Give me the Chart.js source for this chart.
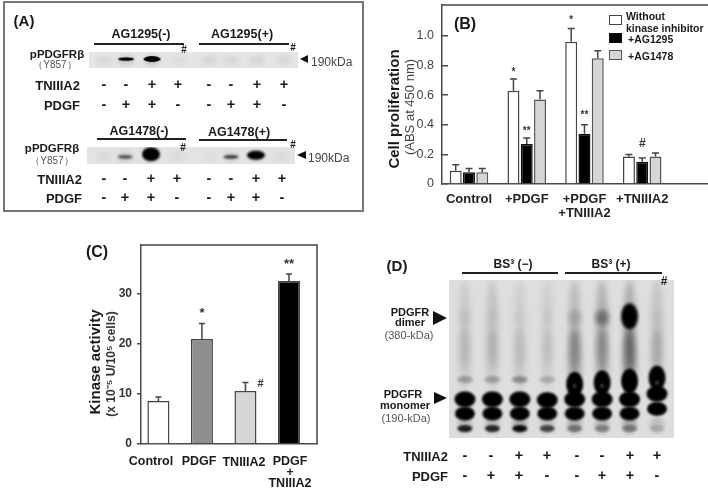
<!DOCTYPE html>
<html>
<head>
<meta charset="utf-8">
<title>PDGFR panels</title>
<script src="https://cdn.jsdelivr.net/npm/chart.js@4/dist/chart.umd.min.js"></script>
<style>
  html, body { margin: 0; background: #fff; }
  #page { position: relative; width: 708px; height: 488px; overflow: hidden; filter: blur(0.5px);
          font-family: "Liberation Sans", Arial, sans-serif; color: #1a1a1a; }
  #page canvas { position: absolute; }
  .t { position: absolute; white-space: nowrap; line-height: 1; }
  .rule { position: absolute; background: #222; }
  .tri { position: absolute; width: 0; height: 0; border-style: solid; border-color: transparent; }
  #frameA { position: absolute; left: 3px; top: 1px; width: 357px; height: 207px; border: 2px solid #777; }
</style>
</head>
<body>
<div id="page">
  <div id="frameA"></div>
  <canvas id="gelA1" width="209" height="16" style="left:89px;top:52px;background:#e5e5e5"></canvas>
  <canvas id="gelA2" width="208" height="17" style="left:87px;top:147px;background:#e3e3e3"></canvas>
  <canvas id="gelD" width="225" height="158" style="left:449px;top:280px;background:#dedede"></canvas>
  <canvas id="chartB" width="333" height="230" style="left:375px;top:0"></canvas>
  <canvas id="chartC" width="225" height="225" style="left:100px;top:235px"></canvas>
</div>
<script>
/* ─── Panel B : cell proliferation ─────────────────────────── */
const B_GROUPS   = ['Control', '+PDGF', ['+PDGF', '+TNIIIA2'], '+TNIIIA2'];
const B_SERIES   = ['Without kinase inhibitor', '+AG1295', '+AG1478'];
const B_NONE     = [0.09, 0.63, 0.96, 0.185];
const B_AG1295   = [0.08, 0.27, 0.34, 0.15];
const B_AG1478   = [0.08, 0.57, 0.85, 0.185];
const B_NONE_ERR = [0.13, 0.71, 1.05, 0.20];
const B_1295_ERR = [0.105, 0.31, 0.40, 0.175];
const B_1478_ERR = [0.105, 0.63, 0.90, 0.21];
const B_TICKS    = [0, 0.2, 0.4, 0.6, 0.8, 1.0];

/* ─── Panel C : kinase activity ────────────────────────────── */
const C_GROUPS = ['Control', 'PDGF', 'TNIIIA2', 'PDGF + TNIIIA2'];
const C_VALUES = [8.6, 21, 10.6, 32.6];
const C_ERR    = [9.4, 24.1, 12.3, 34];
const C_TICKS  = [0, 10, 20, 30];

/* ─── Treatment rows under the blots ───────────────────────── */
const ROW_TNIIIA2 = ['-', '-', '+', '+', '-', '-', '+', '+'];
const ROW_PDGF    = ['-', '+', '+', '-', '-', '+', '+', '-'];

/* ─── Blot A : lanes (fractional, as read) + band densities ── */
const A1_LANES = [0, 0.86, 1.87, 2.88, 4.09, 4.94, 5.95, 7];
const A1_FAINT = [0.05, 0.1, 0.12, 0.04, 0.06, 0.05, 0.06, 0.05];
const A1_MAIN  = [0, 1, 0, 0, 0, 0, 0, 0];
const A1_HEAVY = [0, 0, 1, 0, 0, 0, 0, 0];

const A2_LANES = [0, 0.83, 1.85, 2.87, 4.13, 5, 5.98, 7];
const A2_FAINT = [0.04, 0.1, 0.1, 0.04, 0.02, 0.08, 0.08, 0.04];
const A2_MAIN  = [0, 0.65, 0, 0, 0, 0.78, 0, 0];
const A2_HEAVY = [0, 0, 1, 0, 0, 0, 0, 0];
const A2_DARK  = [0, 0, 0, 0, 0, 0, 1, 0];

/* ─── Blot D : migration (% of gel) and density per lane ───── */
const D_LANES     = [0, 1, 2, 3, 4, 5, 6, 7];
const D_SMEAR     = [0.10, 0.13, 0.08, 0.08, 0.17, 0.22, 0.24, 0.13];
const D_LOWSMEAR  = [0.10, 0.10, 0.10, 0.08, 0.30, 0.24, 0.42, 0.14];
const D_DIMER     = [0.05, 0.03, 0.03, 0.03, 0.14, 0.38, 0, 0.03];
const D_DIMER_HI  = [0, 0, 0, 0, 0, 0, 1, 0];
const D_UPPER     = [0.26, 0.26, 0.34, 0.2, 0, 0, 0, 0];
const D_STACK     = [0, 0, 0, 0, 1, 1, 1, 1];
const D_STACK_POS = [65, 65, 65, 65, 66, 65, 64, 62];
const D_HOLE      = [0, 0, 0, 0, 0.35, 0.35, 0, 0.35];
const D_HOLE_POS  = [67, 67, 67, 67, 67, 67, 67, 65];
const D_MONO_A     = [1, 1, 1, 1, 1, 1, 1, 1];
const D_MONO_A_POS = [75.5, 75.5, 75.5, 76, 75.5, 75.5, 75.5, 72];
const D_MONO_B     = [1, 1, 1, 1, 1, 1, 1, 1];
const D_MONO_B_POS = [84.5, 84.5, 84.5, 84.5, 84.5, 84.5, 84.5, 81.5];
const D_LOW       = [0.85, 0.8, 0.95, 0.65, 0.36, 0.3, 0.32, 0.12];
const D_LOWHAZE   = [0.18, 0.18, 0.24, 0.14, 0.22, 0.2, 0.24, 0.15];

/* ─── Helpers ──────────────────────────────────────────────── */
const page = document.getElementById('page');

function put(text, x, y, o = {}) {
  const el = document.createElement('div');
  el.className = 't';
  el.textContent = text;
  const ax = o.align === 'r' ? '-100%' : o.align === 'l' ? '0' : '-50%';
  el.style.left = x + 'px';
  el.style.top = y + 'px';
  el.style.transform = `translate(${ax},-50%)` + (o.rot ? ` rotate(${o.rot}deg)` : '');
  el.style.fontSize = (o.size || 12) + 'px';
  el.style.fontWeight = o.weight || 'bold';
  el.style.color = o.color || '#1a1a1a';
  page.appendChild(el);
}

function rule(x1, x2, y, h = 1.5) {
  const el = document.createElement('div');
  el.className = 'rule';
  el.style.cssText = `left:${x1}px;width:${x2 - x1}px;top:${y - h / 2}px;height:${h}px`;
  page.appendChild(el);
}

function leftArrow(x1, x2, y, h) {
  const el = document.createElement('div');
  el.className = 'tri';
  el.style.cssText = `left:${x1}px;top:${y - h / 2}px;border-width:${h / 2}px ${x2 - x1}px ${h / 2}px 0;border-right-color:#111`;
  page.appendChild(el);
}

function rightArrow(x1, x2, y, h) {
  const el = document.createElement('div');
  el.className = 'tri';
  el.style.cssText = `left:${x1}px;top:${y - h / 2}px;border-width:${h / 2}px 0 ${h / 2}px ${x2 - x1}px;border-left-color:#111`;
  page.appendChild(el);
}

function signRow(row, xs, y) {
  row.forEach((s, i) => put(s, xs[i], y, { size: 14.5 }));
}

/* blurred ellipse used as the point image of a blot band */
function bandSprite(w, h, level, blur, color) {
  const c = document.createElement('canvas');
  const pad = Math.ceil(blur * 3);
  c.width = w + pad * 2;
  c.height = h + pad * 2;
  const g = c.getContext('2d');
  g.filter = `blur(${blur}px)`;
  g.globalAlpha = level;
  g.fillStyle = color || '#000';
  g.beginPath();
  g.ellipse(c.width / 2, c.height / 2, w / 2, h / 2, 0, 0, Math.PI * 2);
  g.fill();
  return c;
}

/* one scatter dataset per band row; first listed is drawn on top */
function mkBlot(id, lanes, xMin, xMax, rows) {
  const datasets = rows.map(r => {
    const idx = lanes.map((_, i) => i).filter(i => r.levels[i] > 0);
    const pos = i => (Array.isArray(r.pos) ? r.pos[i] : r.pos);
    return {
      data: idx.map(i => ({ x: lanes[i], y: pos(i) })),
      pointStyle: idx.map(i => bandSprite(r.w, r.h, r.levels[i], r.blur || 1.2, r.color)),
      pointRadius: 1,
      pointHoverRadius: 1,
      showLine: false,
      clip: false,
    };
  });
  new Chart(document.getElementById(id), {
    type: 'scatter',
    data: { datasets },
    options: {
      responsive: false,
      animation: false,
      layout: { padding: 0, autoPadding: false },
      plugins: { legend: { display: false }, tooltip: { enabled: false } },
      scales: {
        x: { type: 'linear', display: false, min: xMin, max: xMax },
        y: { type: 'linear', display: false, min: 0, max: 100, reverse: true },
      },
    },
  });
}

/* error whiskers, frame line on top and significance marks */
const barExtras = {
  id: 'barExtras',
  afterDatasetsDraw(chart, _, opts) {
    const { ctx, chartArea, scales } = chart;
    ctx.save();
    ctx.strokeStyle = '#444';
    ctx.lineWidth = 1.5;
    ctx.beginPath();
    ctx.moveTo(chartArea.left, chartArea.top);
    ctx.lineTo(chartArea.right, chartArea.top);
    if (opts.rightEdge) ctx.lineTo(chartArea.right, chartArea.bottom);
    ctx.stroke();

    chart.data.datasets.forEach((ds, d) => {
      const meta = chart.getDatasetMeta(d);
      ds.err.forEach((e, i) => {
        const bar = meta.data[i];
        const yE = scales.y.getPixelForValue(e);
        ctx.beginPath();
        ctx.moveTo(bar.x, bar.y);
        ctx.lineTo(bar.x, yE);
        ctx.moveTo(bar.x - opts.cap, yE);
        ctx.lineTo(bar.x + opts.cap, yE);
        ctx.stroke();
      });
    });

    ctx.fillStyle = '#333';
    ctx.textAlign = 'center';
    ctx.textBaseline = 'middle';
    opts.marks.forEach(m => {
      const bar = chart.getDatasetMeta(m.ds).data[m.i];
      const yE = scales.y.getPixelForValue(chart.data.datasets[m.ds].err[m.i]);
      ctx.font = `bold ${m.size}px "Liberation Sans", Arial, sans-serif`;
      ctx.fillText(m.text, bar.x + (m.dx || 0), yE - m.lift);
    });
    ctx.restore();
  },
};

const AXIS = '#4a4a4a';

/* axis boxes keep a fixed size, labels may not push the plot area */
function fixBox(s, size) {
  if (s.isHorizontal()) s.height = size; else s.width = size;
  s.paddingTop = s.paddingBottom = s.paddingLeft = s.paddingRight = 0;
}

/* ─── Panel B chart ────────────────────────────────────────── */
const B_STYLE = [
  { bg: '#ffffff', border: '#444' },
  { bg: '#000000', border: '#111' },
  { bg: '#d6d6d6', border: '#555' },
];
const toXY = vals => vals.map((v, i) => ({ x: i, y: v }));

new Chart(document.getElementById('chartB'), {
  type: 'bar',
  data: {
    datasets: [
      { label: B_SERIES[0], data: toXY(B_NONE),   err: B_NONE_ERR },
      { label: B_SERIES[1], data: toXY(B_AG1295), err: B_1295_ERR },
      { label: B_SERIES[2], data: toXY(B_AG1478), err: B_1478_ERR },
    ].map((ds, i) => ({
      ...ds,
      backgroundColor: B_STYLE[i].bg,
      borderColor: B_STYLE[i].border,
      borderWidth: 1.5,
      categoryPercentage: 0.69,
      barPercentage: 0.9,
    })),
  },
  plugins: [barExtras],
  options: {
    responsive: false,
    animation: false,
    layout: { padding: { top: 5 }, autoPadding: false },
    plugins: {
      legend: { display: false },
      tooltip: { enabled: false },
      barExtras: {
        cap: 3.5,
        marks: [
          { ds: 0, i: 1, text: '*',  size: 10, lift: 7 },
          { ds: 1, i: 1, text: '**', size: 10, lift: 7 },
          { ds: 0, i: 2, text: '*',  size: 10, lift: 8 },
          { ds: 1, i: 2, text: '**', size: 10, lift: 10 },
          { ds: 1, i: 3, text: '#',  size: 12, lift: 14 },
        ],
      },
    },
    scales: {
      x: {
        type: 'linear',
        offset: false,
        min: -0.4675,
        max: 4.139,
        afterBuildTicks: s => { s.ticks = B_GROUPS.map((_, i) => ({ value: i })); },
        afterFit: s => fixBox(s, 46),
        grid: { display: false, offset: false, drawTicks: false },
        border: { color: AXIS, width: 1.5 },
        ticks: {
          autoSkip: false,
          maxRotation: 0,
          padding: 8,
          color: '#222',
          font: { family: '"Liberation Sans"', size: 13, weight: 'bold', lineHeight: 1.1 },
          callback: v => B_GROUPS[v],
        },
      },
      y: {
        min: 0,
        max: 1.209,
        afterBuildTicks: s => { s.ticks = B_TICKS.map(v => ({ value: v })); },
        afterFit: s => fixBox(s, 67),
        grid: { drawOnChartArea: false, tickLength: -6, color: AXIS, lineWidth: 1.5 },
        border: { color: AXIS, width: 1.5 },
        ticks: {
          padding: 14,
          color: '#444',
          font: { family: '"Liberation Sans"', size: 12.5 },
          callback: v => (v === 0 ? '0' : v.toFixed(1)),
        },
      },
    },
  },
});

/* ─── Panel C chart ────────────────────────────────────────── */
const C_FILL = ['#ffffff', '#8e8e8e', '#d6d6d6', '#000000'];

new Chart(document.getElementById('chartC'), {
  type: 'bar',
  data: {
    datasets: [{
      data: toXY(C_VALUES),
      err: C_ERR,
      backgroundColor: C_FILL,
      borderColor: '#444',
      borderWidth: 1.5,
      categoryPercentage: 0.506,
      barPercentage: 1,
    }],
  },
  plugins: [barExtras],
  options: {
    responsive: false,
    animation: false,
    layout: { padding: { top: 10, right: 8 }, autoPadding: false },
    plugins: {
      legend: { display: false },
      tooltip: { enabled: false },
      barExtras: {
        cap: 3,
        rightEdge: true,
        marks: [
          { ds: 0, i: 1, text: '*',  size: 13, lift: 10 },
          { ds: 0, i: 3, text: '**', size: 13, lift: 10 },
          { ds: 0, i: 2, text: '#',  size: 11, lift: -1.5, dx: 15 },
        ],
      },
    },
    scales: {
      x: {
        type: 'linear',
        offset: false,
        min: -0.40,
        max: 3.644,
        afterFit: s => fixBox(s, 16),
        grid: { display: false, offset: false, drawTicks: false },
        border: { color: AXIS, width: 1.5 },
        ticks: { display: false },
      },
      y: {
        min: 0,
        max: 39.8,
        afterBuildTicks: s => { s.ticks = C_TICKS.map(v => ({ value: v })); },
        afterFit: s => fixBox(s, 41),
        grid: { drawOnChartArea: false, tickLength: 4, color: AXIS, lineWidth: 1.5 },
        border: { color: AXIS, width: 1.5 },
        ticks: {
          padding: 5,
          color: '#333',
          font: { family: '"Liberation Sans"', size: 12, weight: 'bold' },
        },
      },
    },
  },
});

/* ─── Blots ────────────────────────────────────────────────── */
mkBlot('gelA1', A1_LANES, -0.584, 7.55, [
  { levels: A1_MAIN,  pos: 44, w: 16, h: 3.5, blur: 0.7 },
  { levels: A1_HEAVY, pos: 44, w: 17, h: 6, blur: 0.7 },
  { levels: A1_FAINT, pos: 52, w: 17, h: 11, blur: 2 },
]);
mkBlot('gelA2', A2_LANES, -0.67, 7.52, [
  { levels: A2_MAIN,  pos: 58, w: 15, h: 3.5, blur: 0.9 },
  { levels: A2_HEAVY, pos: 42, w: 18, h: 14, blur: 1 },
  { levels: A2_DARK,  pos: 48, w: 18, h: 9, blur: 0.8 },
  { levels: A2_FAINT, pos: 55, w: 16, h: 11, blur: 2 },
]);
mkBlot('gelD', D_LANES, -0.58, 7.62, [
  { levels: D_HOLE,    pos: D_HOLE_POS, w: 4, h: 4, blur: 1, color: '#bbb' },
  { levels: D_MONO_A,  pos: D_MONO_A_POS, w: 21, h: 16, blur: 0.9 },
  { levels: D_MONO_B,  pos: D_MONO_B_POS, w: 20, h: 14, blur: 0.9 },
  { levels: D_STACK,   pos: D_STACK_POS, w: 17, h: 25, blur: 1 },
  { levels: D_UPPER,   pos: 63, w: 16, h: 7, blur: 1.4 },
  { levels: D_LOW,     pos: 94, w: 15, h: 7, blur: 1.2 },
  { levels: D_LOWHAZE, pos: 92, w: 15, h: 16, blur: 2 },
  { levels: D_DIMER_HI, pos: 23, w: 17, h: 26, blur: 1.6 },
  { levels: D_DIMER,   pos: 24, w: 14, h: 16, blur: 2.5 },
  { levels: D_LOWSMEAR, pos: 50, w: 13, h: 62, blur: 3 },
  { levels: D_SMEAR,   pos: 28, w: 12, h: 90, blur: 3 },
]);

/* ─── Text : panel A ───────────────────────────────────────── */
put('(A)', 24, 20, { size: 15 });
put('AG1295(-)', 141, 34, { size: 12.5 });
put('AG1295(+)', 242, 34, { size: 12.5 });
rule(94, 184, 44); rule(199, 289, 44);
put('#', 184, 50, { size: 10 }); put('#', 293, 48, { size: 10 });
put('pPDGFRβ', 57, 55, { size: 11.5 });
put('（Y857）', 55, 65, { size: 10, weight: 'normal', color: '#555' });
leftArrow(300, 308, 59, 8);
put('190kDa', 311, 62, { size: 12, weight: 'normal', color: '#444', align: 'l' });
put('TNIIIA2', 80, 85, { size: 13, align: 'r' });
put('PDGF', 80, 105, { size: 13, align: 'r' });
signRow(ROW_TNIIIA2, [104, 126, 152, 178, 209, 231, 257, 284], 84);
signRow(ROW_PDGF, [104, 126, 152, 178, 209, 231, 257, 284], 104);

put('AG1478(-)', 139, 131, { size: 12.5 });
put('AG1478(+)', 239, 132, { size: 12.5 });
rule(97, 186, 139); rule(199, 287, 140);
put('#', 183, 148, { size: 10 }); put('#', 293, 145, { size: 10 });
put('pPDGFRβ', 52, 149, { size: 11.5 });
put('（Y857）', 52, 161, { size: 10, weight: 'normal', color: '#555' });
leftArrow(297, 306, 155, 8);
put('190kDa', 308, 158, { size: 12, weight: 'normal', color: '#444', align: 'l' });
put('TNIIIA2', 82, 179, { size: 13, align: 'r' });
put('PDGF', 82, 198, { size: 13, align: 'r' });
signRow(ROW_TNIIIA2, [104, 125, 151, 177, 209, 231, 256, 282], 178);
signRow(ROW_PDGF, [104, 125, 151, 177, 209, 231, 256, 282], 197);

/* ─── Text : panel B ───────────────────────────────────────── */
put('(B)', 465, 24, { size: 16 });
put('Cell proliferation', 393, 109, { size: 15, rot: -90 });
put('(ABS at  450 nm)', 409, 107, { size: 13, weight: 'normal', color: '#444', rot: -90 });
[[15, '#fff', '#444'], [33, '#000', '#111'], [50, '#d6d6d6', '#555']].forEach(([y, bg, bd]) => {
  const sw = document.createElement('div');
  sw.style.cssText = `position:absolute;left:609px;top:${y}px;width:11px;height:8px;background:${bg};border:1.5px solid ${bd}`;
  page.appendChild(sw);
});
put('Without', 626, 16, { size: 10.5, align: 'l' });
put('kinase inhibitor', 626, 28, { size: 10.5, align: 'l' });
put(B_SERIES[1], 628, 39, { size: 10.5, align: 'l' });
put(B_SERIES[2], 628, 56, { size: 10.5, align: 'l' });

/* ─── Text : panel C ───────────────────────────────────────── */
put('(C)', 97, 252, { size: 16 });
put('Kinase activity', 94, 362, { size: 15, rot: -90 });
put('(x 10⁻⁵ U/10⁵ cells)', 111, 364, { size: 12, rot: -90, color: '#333' });
put(C_GROUPS[0], 151, 461, { size: 12.5 });
put(C_GROUPS[1], 199, 461, { size: 12.5 });
put(C_GROUPS[2], 244, 462, { size: 12.5 });
put('PDGF', 290, 461, { size: 12.5 });
put('+', 290, 472, { size: 12 });
put('TNIIIA2', 290, 483, { size: 12.5 });

/* ─── Text : panel D ───────────────────────────────────────── */
put('(D)', 397, 265, { size: 15 });
put('BS³ (−)', 513, 264, { size: 12 });
put('BS³ (+)', 611, 264, { size: 12 });
rule(462, 558, 273, 2.5); rule(565, 662, 273, 2.5);
put('#', 664, 281, { size: 12 });
put('PDGFR', 410, 312, { size: 11 });
put('dimer', 410, 322, { size: 11 });
put('(380-kDa)', 409, 335, { size: 11, weight: 'normal', color: '#555' });
rightArrow(433, 447, 318, 14);
put('PDGFR', 403, 394, { size: 11 });
put('monomer', 405, 405, { size: 11 });
put('(190-kDa)', 406, 418, { size: 11, weight: 'normal', color: '#555' });
rightArrow(434, 447, 398, 13);
put('TNIIIA2', 448, 456, { size: 13, align: 'r' });
put('PDGF', 448, 476, { size: 13, align: 'r' });
signRow(ROW_TNIIIA2, [465, 491, 519, 547, 577, 602, 630, 657], 455);
signRow(ROW_PDGF, [465, 491, 519, 547, 577, 602, 630, 657], 475);
</script>
</body>
</html>
